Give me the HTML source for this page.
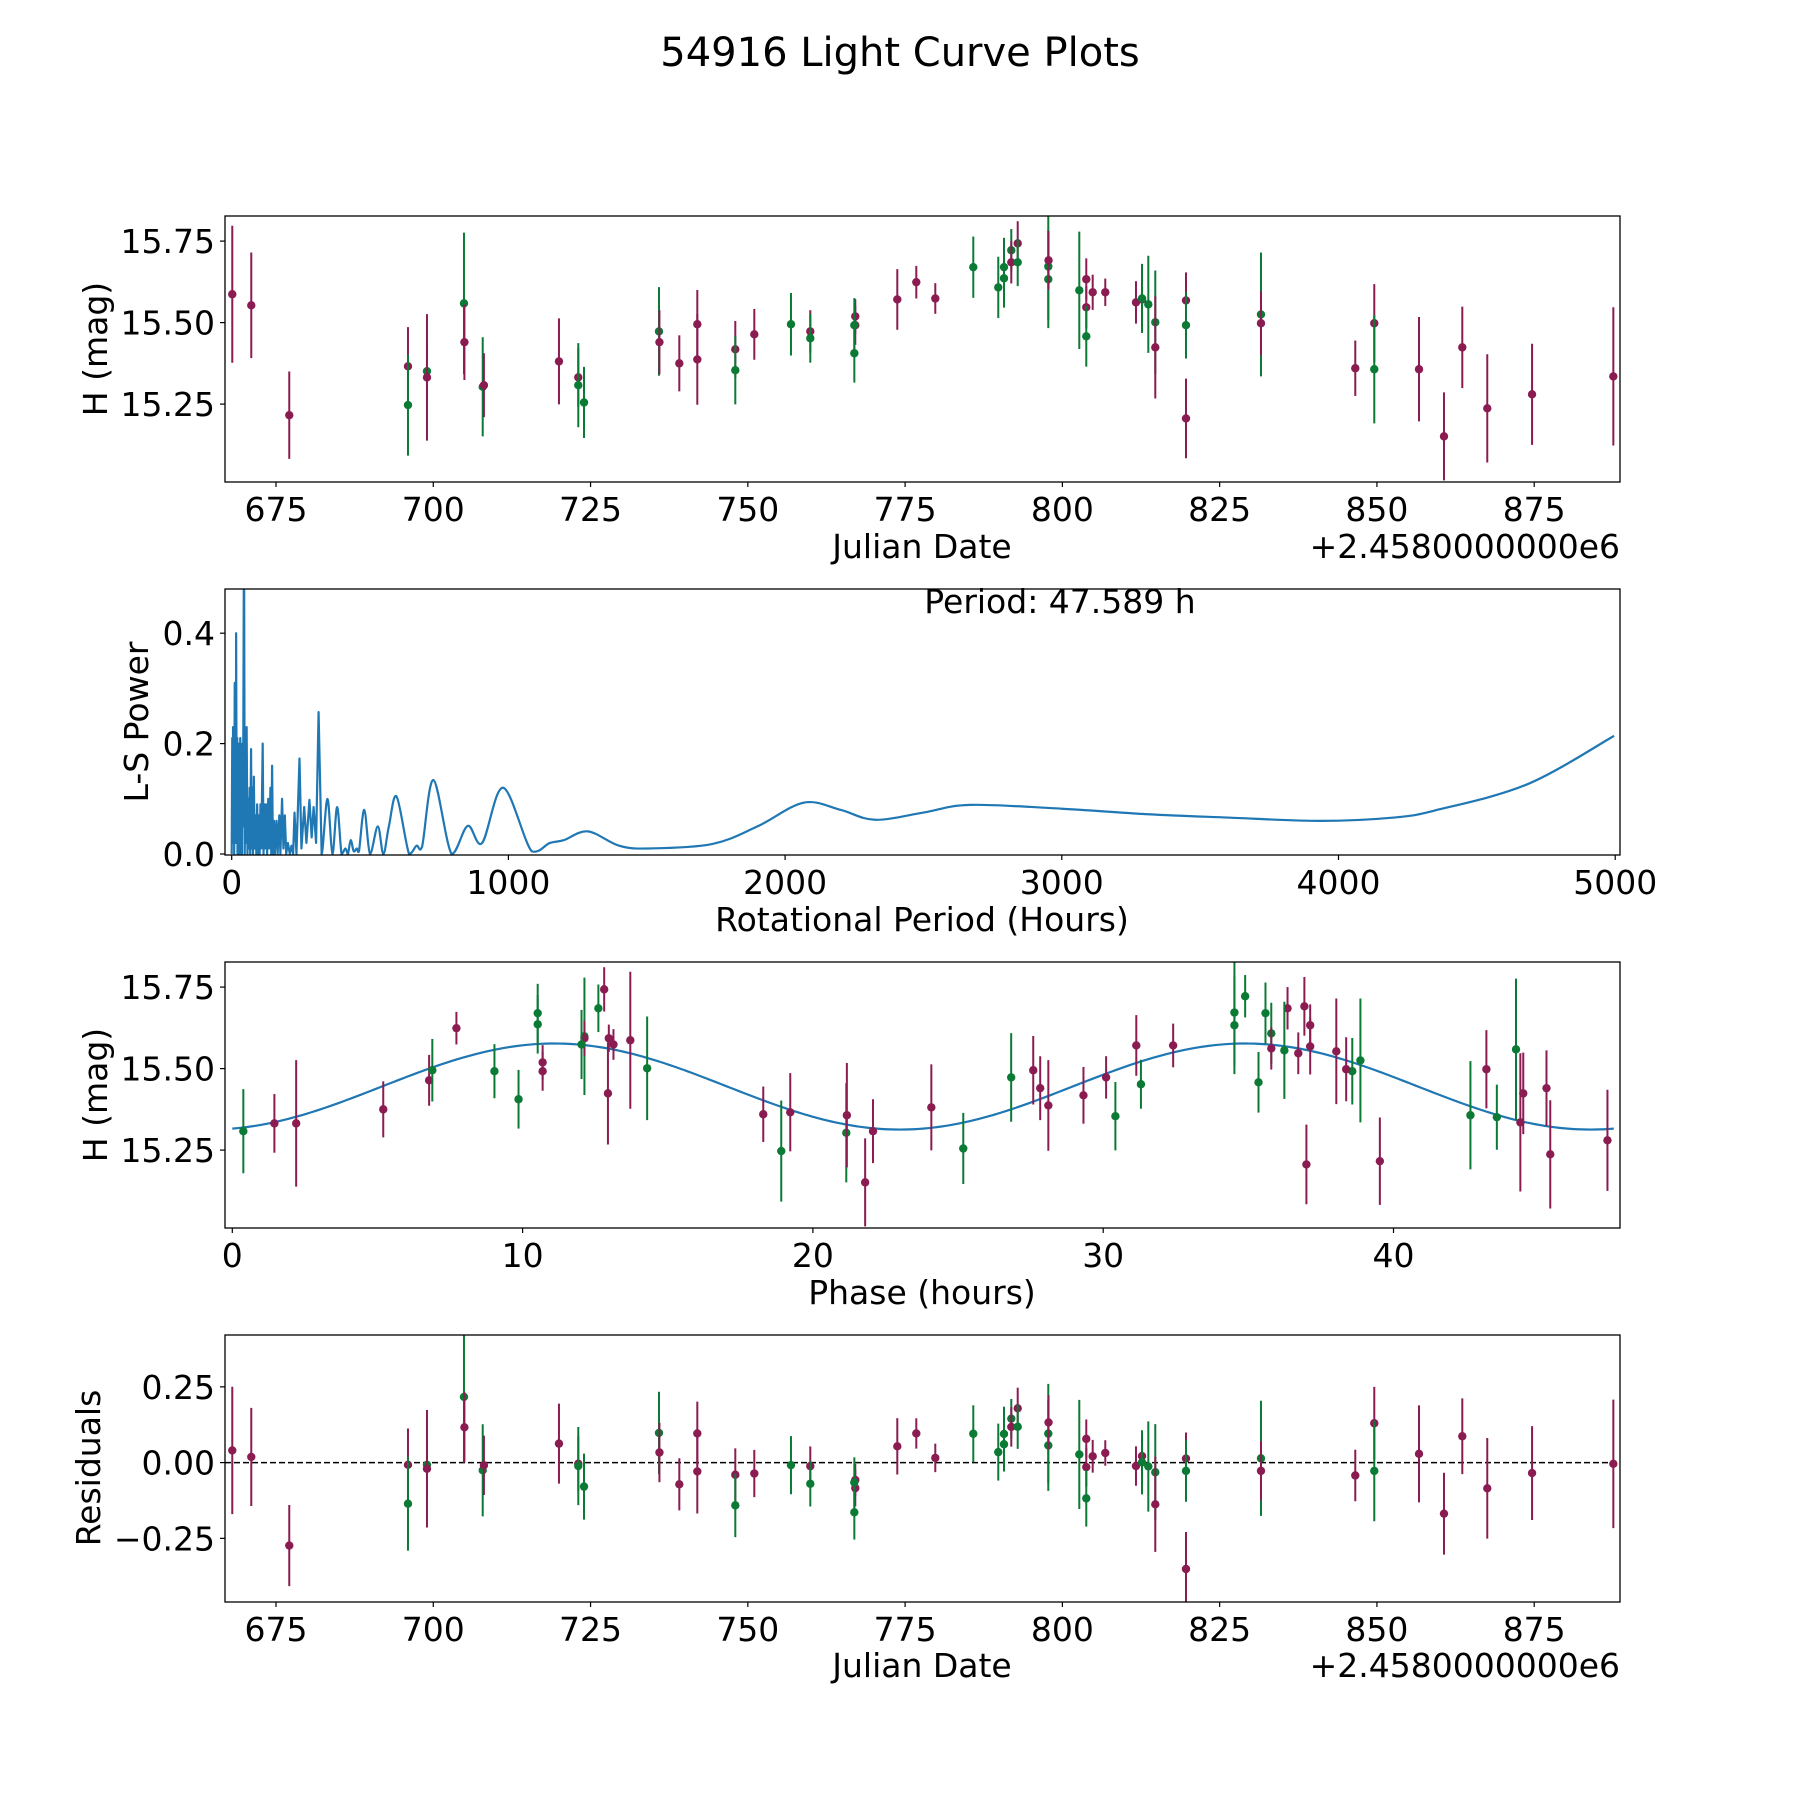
<!DOCTYPE html>
<html><head><meta charset="utf-8"><title>54916 Light Curve Plots</title>
<style>
html,body{margin:0;padding:0;background:#fff;}
svg text{font-family:"DejaVu Sans","Liberation Sans",sans-serif;fill:#000;}
</style></head>
<body>
<svg id="fig" xmlns="http://www.w3.org/2000/svg" width="1800" height="1800" viewBox="0 0 1800 1800">
<rect x="0" y="0" width="1800" height="1800" fill="#fff"/>
<text x="900" y="66" font-size="40" text-anchor="middle">54916 Light Curve Plots</text>
<defs>
<clipPath id="c1"><rect x="225" y="216" width="1395" height="266"/></clipPath>
<clipPath id="c2"><rect x="225" y="589" width="1395" height="266"/></clipPath>
<clipPath id="c3"><rect x="225" y="962" width="1395" height="266"/></clipPath>
<clipPath id="c4"><rect x="225" y="1335" width="1395" height="267"/></clipPath>
</defs>
<g id="p1"></g>
<g id="p2"></g>
<g id="p3"></g>
<g id="p4"></g>
</svg>
<script>
// ---- observation data ----
const times = [668.05,671.07,677.11,695.98,695.98,699.0,699.0,704.88,704.95,707.86,708.05,719.98,723.05,723.05,723.96,735.88,735.95,739.11,741.97,741.97,748.01,748.01,751.03,756.86,759.93,759.93,767.08,767.08,766.93,766.93,773.76,776.78,779.8,785.84,789.81,790.72,790.72,791.88,791.88,792.9,792.9,797.76,797.76,797.8,802.69,803.8,803.8,803.8,804.82,806.82,811.7,812.66,812.66,813.66,814.77,814.77,819.65,819.65,819.65,831.57,831.57,846.56,849.58,849.58,856.69,860.66,863.57,867.54,874.66,887.58];
const mags = [15.587,15.553,15.216,15.366,15.247,15.351,15.332,15.559,15.44,15.303,15.308,15.381,15.332,15.308,15.255,15.473,15.44,15.375,15.495,15.387,15.418,15.354,15.464,15.495,15.473,15.452,15.519,15.492,15.406,15.492,15.571,15.624,15.574,15.67,15.608,15.67,15.636,15.722,15.685,15.743,15.685,15.672,15.633,15.691,15.599,15.633,15.547,15.458,15.593,15.593,15.562,15.571,15.574,15.556,15.501,15.424,15.568,15.492,15.206,15.525,15.498,15.36,15.498,15.357,15.357,15.151,15.424,15.237,15.28,15.335];
const errs = [0.21,0.162,0.134,0.12,0.155,0.10,0.194,0.217,0.116,0.152,0.098,0.132,0.09,0.129,0.109,0.136,0.098,0.086,0.105,0.139,0.087,0.105,0.078,0.096,0.065,0.075,0.053,0.06,0.09,0.083,0.093,0.05,0.047,0.094,0.094,0.09,0.09,0.065,0.065,0.068,0.073,0.164,0.15,0.09,0.18,0.064,0.064,0.093,0.054,0.042,0.065,0.067,0.106,0.149,0.159,0.157,0.086,0.102,0.122,0.19,0.098,0.085,0.12,0.166,0.16,0.135,0.125,0.166,0.155,0.212];
const bands = "mmmmggmgmgmmmgggmmmmmgmgmgmmggmmmgggggmmgggmgmmgmmmmgggmmgmgmmmgmmmmmm".split("");
const phases = [13.71,38.03,39.53,19.22,18.91,43.56,2.20,44.22,45.27,21.15,22.07,24.08,1.45,0.38,25.18,26.83,27.83,5.2,27.59,28.11,29.32,30.42,6.78,6.89,30.1,31.3,10.69,10.69,9.86,9.03,31.14,7.72,13.13,35.59,35.79,10.52,10.52,34.89,36.35,12.81,12.61,34.52,34.52,36.93,12.13,37.13,36.72,35.35,12.13,12.97,35.79,32.41,12.03,36.24,14.29,12.94,37.13,38.58,37.0,38.86,38.37,18.29,43.2,42.65,21.17,21.8,44.47,45.4,47.37,44.37];
// ---- periodogram ----
const lsPeriod = [0,2,3,5,6,8,9,11,12,14,15,16,18,20,21,23,25,27,29,31,33,35,37,39,41,44.5,47,50,52,54,57,60,62,65,67,70,72,75,77,80,83,86,89,92,95,98,101,104,107,112,115,118,121,125,128,132,135,140,143,146,149,153,156,162,166,172,176,182,187,192,197,203,210,216,222,227,234,245,252,262,270,281,289,296,305,314,325,346,364,381,397,411,420,430,441,452,460,479,500,528,548,568,596,641,668,688,729,795,853,905,981,1084,1150,1200,1287,1400,1507,1736,1900,2067,2200,2324,2500,2668,3000,3312,3600,3933,4200,4349,4681,4996];
const lsPower = [0,0.21,0.02,0.23,0.05,0.22,0.0,0.31,0.05,0.2,0.02,0.40,0.03,0.21,0.0,0.18,0.02,0.2,0.0,0.21,0.02,0.17,0.0,0.2,0.05,0.62,0.0,0.15,0.02,0.23,0.0,0.1,0.01,0.12,0.0,0.19,0.01,0.12,0.0,0.14,0.01,0.07,0.0,0.09,0.0,0.07,0.0,0.09,0.01,0.2,0.0,0.09,0.01,0.09,0.0,0.1,0.01,0.12,0.0,0.16,0.0,0.06,0.0,0.06,0.0,0.07,0.0,0.1,0.01,0.07,0.0,0.02,0.0,0.015,0.0,0.075,0.0,0.173,0.01,0.085,0.02,0.098,0.03,0.085,0.02,0.257,0.0,0.1,0.0,0.085,0.0,0.01,0.0,0.025,0.005,0.01,0.005,0.08,0.0,0.05,0.0,0.05,0.104,0.0,0.015,0.013,0.134,0.0,0.051,0.02,0.12,0.005,0.02,0.025,0.041,0.015,0.01,0.018,0.05,0.093,0.08,0.062,0.075,0.089,0.082,0.072,0.066,0.06,0.066,0.079,0.126,0.214];
const bestPeriod = 47.589;
const modelMean = 15.445, modelAmp = 0.132, modelPeak = 11.1;
const jdTicks = [675,700,725,750,775,800,825,850,875];
const magTicks = [15.25,15.50,15.75];
const lsXTicks = [0,1000,2000,3000,4000,5000];
const lsYTicks = [0.0,0.2,0.4];
const phTicks = [0,10,20,30,40];
const resTicks = [-0.25,0,0.25];

const NS="http://www.w3.org/2000/svg";
const COL={m:"#8a1c52",g:"#0b7a35"};
const FS=33;
function mk(parent,tag,attrs){const e=document.createElementNS(NS,tag);for(const k in attrs)e.setAttribute(k,attrs[k]);parent.appendChild(e);return e;}
const L=225,R=1620;
const xJD=t=>276+(t-675)*6.291;
const yMag1=m=>404.1-(m-15.25)*326;
const yMag3=m=>1150.1-(m-15.25)*326;
const xLS=p=>231.7+p*0.2767;
const yLS=v=>854-v*552;
const xPh=p=>232.3+p*29.03;
const yRes=r=>1462.6-r*303;
function model(ph){return modelMean+modelAmp*Math.cos(2*Math.PI*(ph-modelPeak)/(bestPeriod/2));}
const fmtMinus=s=>s.replace("-","\u2212");

function frame(g,top,h,name){
  const r=mk(g,"rect",{x:L,y:top,width:R-L,height:h,fill:"none",stroke:"#000","stroke-width":1.3});
  
  
}
function xticks(g,vals,fx,bottom,fmt,name){
  vals.forEach(v=>{const x=fx(v);
    const t=mk(g,"line",{x1:x,x2:x,y1:bottom,y2:bottom+5,stroke:"#000","stroke-width":1.2});
    
    
    const tx=mk(g,"text",{x:x,y:bottom+39,"font-size":FS,"text-anchor":"middle"});tx.textContent=fmt(v);
    
    
  });
}
function yticks(g,vals,fy,fmt,name){
  vals.forEach(v=>{const y=fy(v);
    const t=mk(g,"line",{x1:L-5,x2:L,y1:y,y2:y,stroke:"#000","stroke-width":1.2});
    
    
    const tx=mk(g,"text",{x:L-10,y:y+12,"font-size":FS,"text-anchor":"end"});tx.textContent=fmt(v);
    
    
  });
}
function label(g,txt,x,y,rot,name,anchor){
  const t=mk(g,"text",{x:x,y:y,"font-size":FS,"text-anchor":anchor||"middle"});
  if(rot)t.setAttribute("transform","rotate(-90 "+x+" "+y+")");
  t.textContent=txt;
  
  
}
function errPoints(g,clip,xs,ys,es,fy,name){
  const d=mk(g,"g",{"clip-path":"url(#"+clip+")"});
  for(let i=0;i<xs.length;i++){
    const c=COL[bands[i]];const x=xs[i];
    const ln=mk(d,"line",{x1:x,x2:x,y1:fy(ys[i]-es[i]),y2:fy(ys[i]+es[i]),stroke:c,"stroke-width":2});
    
    
    const pt=mk(d,"circle",{cx:x,cy:fy(ys[i]),r:4.2,fill:c});
    
    
  }
}
const f2=v=>v.toFixed(2);

(function(){const g=document.getElementById("p1");
  errPoints(g,"c1",times.map(xJD),mags,errs,yMag1,"light-curve");
  frame(g,216,266,"light-curve");
  xticks(g,jdTicks,xJD,482,v=>String(v),"jd-x");
  yticks(g,magTicks,yMag1,f2,"mag-y");
  label(g,"Julian Date",922,558,false,"x-axis-title");
  label(g,"+2.4580000000e6",1620,558,false,"x-axis-offset","end");
  label(g,"H (mag)",107,349,true,"y-axis-title");
})();
(function(){const g=document.getElementById("p2");
  const d=mk(g,"g",{"clip-path":"url(#c2)"});
  const P=lsPeriod.map((p,i)=>[xLS(p),yLS(lsPower[i])]);
  let s="M"+P[0][0].toFixed(2)+","+P[0][1].toFixed(2);
  for(let i=1;i<P.length;i++){
    if(lsPeriod[i]<=340){s+="L"+P[i][0].toFixed(2)+","+P[i][1].toFixed(2);continue;}
    const p0=P[Math.max(0,i-2)],p1=P[i-1],p2=P[i],p3=P[Math.min(P.length-1,i+1)];
    const b=yLS(0);
    const c1=[p1[0]+(p2[0]-p0[0])/6,Math.min(b,p1[1]+(p2[1]-p0[1])/6)];
    const c2=[p2[0]-(p3[0]-p1[0])/6,Math.min(b,p2[1]-(p3[1]-p1[1])/6)];
    s+="C"+c1[0].toFixed(2)+","+c1[1].toFixed(2)+" "+c2[0].toFixed(2)+","+c2[1].toFixed(2)+" "+p2[0].toFixed(2)+","+p2[1].toFixed(2);
  }
  const path=mk(d,"path",{d:s,fill:"none",stroke:"#1f77b4","stroke-width":2.2,"stroke-linejoin":"round"});
  
  
  frame(g,589,266,"periodogram");
  xticks(g,lsXTicks,xLS,855,v=>String(v),"period-x");
  yticks(g,lsYTicks,yLS,v=>v.toFixed(1),"power-y");
  label(g,"Rotational Period (Hours)",922,931,false,"periodogram-x-title");
  label(g,"L-S Power",148,722,true,"periodogram-y-title");
  label(g,"Period: "+bestPeriod.toFixed(3)+" h",1060,613,false,"period-annotation");
})();
(function(){const g=document.getElementById("p3");
  const d=mk(g,"g",{"clip-path":"url(#c3)"});
  let s="";for(let i=0;i<=300;i++){const ph=bestPeriod*i/300;s+=(i?"L":"M")+xPh(ph).toFixed(2)+","+yMag3(model(ph)).toFixed(2);}
  const ml=mk(d,"path",{d:s,fill:"none",stroke:"#1f77b4","stroke-width":2.2});
  
  
  errPoints(g,"c3",phases.map(xPh),mags,errs,yMag3,"phased");
  frame(g,962,266,"phase");
  xticks(g,phTicks,xPh,1228,v=>String(v),"phase-x");
  yticks(g,magTicks,yMag3,f2,"phase-mag-y");
  label(g,"Phase (hours)",922,1304,false,"phase-x-title");
  label(g,"H (mag)",107,1095,true,"phase-y-title");
})();
(function(){const g=document.getElementById("p4");
  const zl=mk(g,"line",{x1:L,x2:R,y1:yRes(0),y2:yRes(0),stroke:"#000","stroke-width":1.5,"stroke-dasharray":"6,3"});
  
  
  const res=mags.map((m,i)=>m-model(phases[i]));
  errPoints(g,"c4",times.map(xJD),res,errs,yRes,"residual");
  frame(g,1335,267,"residuals");
  xticks(g,jdTicks,xJD,1602,v=>String(v),"res-jd-x");
  yticks(g,resTicks,yRes,v=>fmtMinus(v.toFixed(2)),"res-y");
  label(g,"Julian Date",922,1677,false,"residuals-x-title");
  label(g,"+2.4580000000e6",1620,1677,false,"residuals-x-offset","end");
  label(g,"Residuals",100,1468,true,"residuals-y-title");
})();
</script>
</body></html>
